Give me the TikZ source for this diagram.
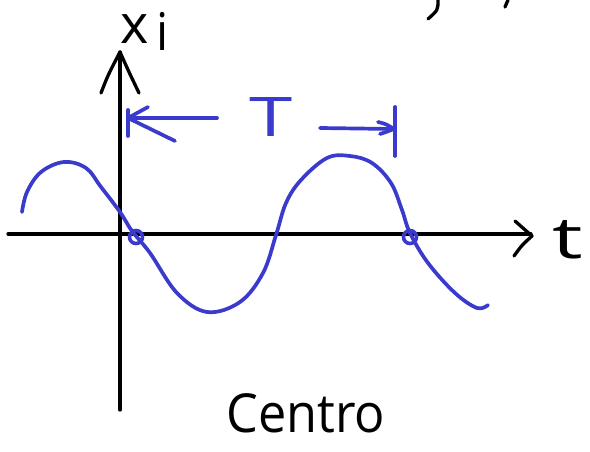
\documentclass[tikz,border=0pt]{standalone}
\usepackage{fontspec}
\setmainfont{Open Sans}
\definecolor{pen}{RGB}{58,58,205}
\tikzset{
  ax/.style={line width=3.3pt, line cap=round, line join=round},
  bl/.style={pen, line width=3.7pt, line cap=round, line join=round},
  dot/.style={draw=pen, line width=3.6pt, circle, minimum size=13pt, inner sep=0pt},
  lbl/.style={inner sep=0pt, outer sep=0pt}
}
\begin{document}
\begin{tikzpicture}[x=1pt,y=-1pt]
\useasboundingbox (0,0) rectangle (590,452);
% axes
\coordinate (yb) at (120,410);
\coordinate (yt) at (120,52);
\coordinate (xl) at (8,234);
\coordinate (xr) at (532,236);
\draw[ax] (yb) -- (yt);
\draw[ax] (101,93) .. controls (108,75) .. (yt) .. controls (128,70) .. (139,93);
\draw[ax] (xl) -- (531,234);
\draw[ax] (515,221) -- (xr) .. controls (522,245) .. (514,256);
% labels
\node[lbl] (xlab) at (135,29) {\scalebox{1.35}[1.35]{\fontsize{40}{40}\selectfont x}};
\node[lbl] (ilab) at (163,31) {\scalebox{1.2}[1.3]{\fontsize{40}{40}\selectfont i}};
\node[lbl] (tlab) at (568,240) {\scalebox{1.8}[1.2]{\fontsize{48}{48}\selectfont t}};
\node[lbl] (centro) at (306,413) {\scalebox{1.05}[1.12]{\fontsize{48}{48}\selectfont Centro}};
% fragments top right
\draw[ax] (438,0) .. controls (438,10) .. (428,19);
\draw[ax] (508,0) -- (505,7);
% sine curve
\draw[bl] plot[smooth, tension=0.6] coordinates {
 (22,212) (27,192) (41,172) (64,162) (86,168) (101,187) (120,212)
 (132,231) (150,253) (177,293) (207,312) (240,302) (263,273) (276,235)
 (286,203) (301,180) (327,158) (350,156) (372,163) (391,183) (402,210)
 (410,233) (428,263) (455,293) (477,308) (488,305)};
\node[dot] (p1) at (136,237) {};
\node[dot] (p2) at (410,237) {};
% period arrow
\coordinate (la) at (128,118);
\coordinate (ra) at (394,129);
\draw[bl] (217,118) -- (la);
\draw[bl] (148,107) -- (la) -- (175,141);
\draw[bl] (128,110) -- (128,136);
\draw[bl] (320,128) -- (ra);
\draw[bl] (378,122) .. controls (386,124) .. (ra) .. controls (386,132) .. (380,134);
\draw[bl] (395,107) -- (395,156);
\node[lbl, text=pen] (Tlab) at (271,117) {\scalebox{1.5}[1.05]{\fontsize{52}{52}\selectfont T}};
\end{tikzpicture}
\end{document}
